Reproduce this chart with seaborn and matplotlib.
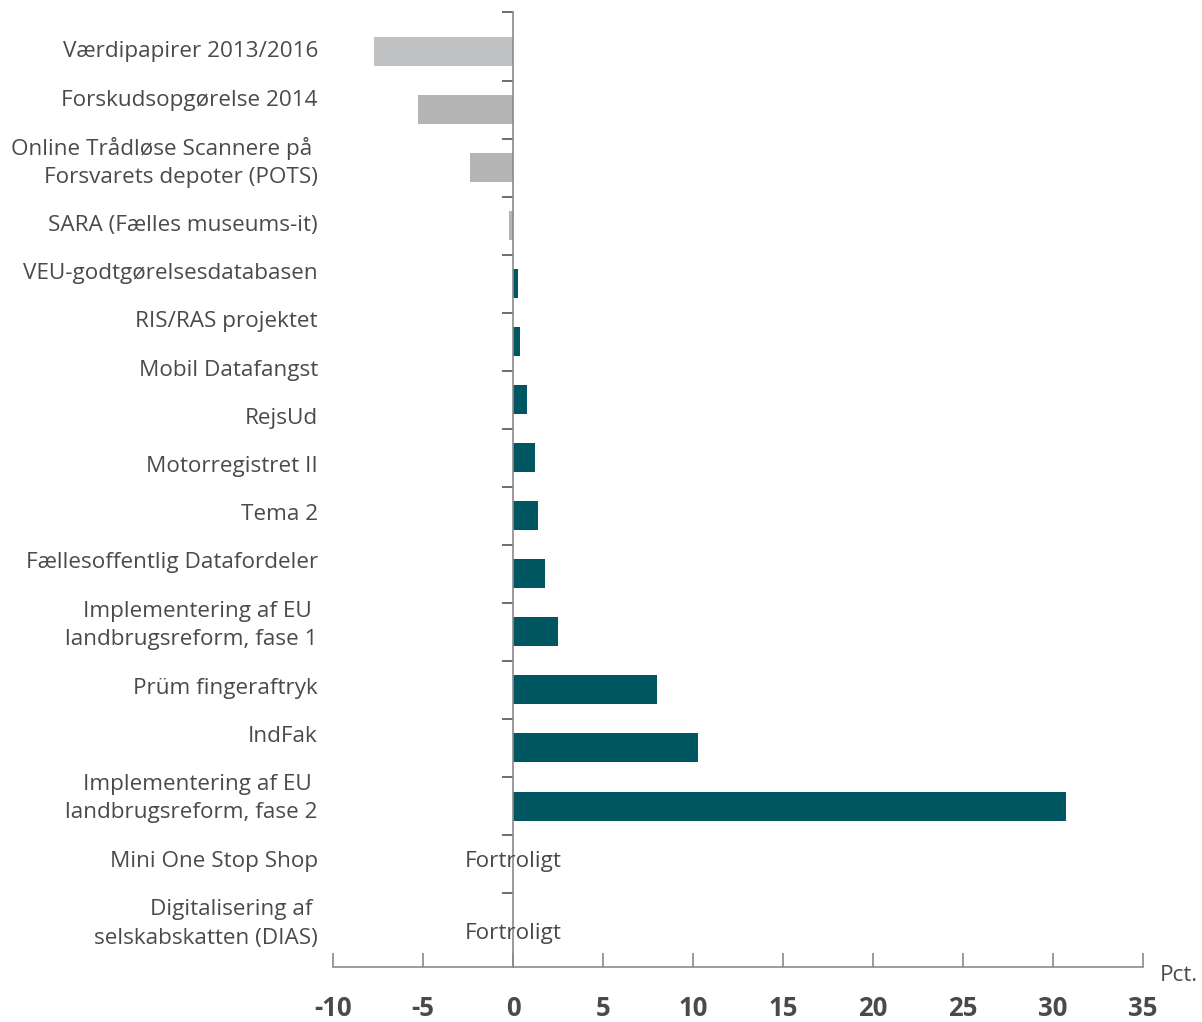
import numpy as np
import pandas as pd
import matplotlib
matplotlib.use("Agg")
import matplotlib.pyplot as plt
import matplotlib.transforms as mtransforms
import seaborn as sns

# ---------------- data ----------------
labels = [
    "Værdipapirer 2013/2016",
    "Forskudsopgørelse 2014",
    "Online Trådløse Scannere på \nForsvarets depoter (POTS)",
    "SARA (Fælles museums-it)",
    "VEU-godtgørelsesdatabasen",
    "RIS/RAS projektet",
    "Mobil Datafangst",
    "RejsUd",
    "Motorregistret II",
    "Tema 2",
    "Fællesoffentlig Datafordeler",
    "Implementering af EU \nlandbrugsreform, fase 1",
    "Prüm fingeraftryk",
    "IndFak",
    "Implementering af EU \nlandbrugsreform, fase 2",
    "Mini One Stop Shop",
    "Digitalisering af \nselskabskatten (DIAS)",
]
values = [-7.7, -5.3, -2.4, -0.25, 0.3, 0.4, np.nan, 0.8, 1.2, 1.4, 1.8, 2.5,
          8.0, 10.3, 30.7, np.nan, np.nan]
confidential = ["Mini One Stop Shop", "Digitalisering af \nselskabskatten (DIAS)"]
confidential_text = "Fortroligt"
x_ticks = [-10, -5, 0, 5, 10, 15, 20, 25, 30, 35]
unit_label = "Pct."

# ---------------- style ----------------
TEAL = "#005761"
GREY_LIGHT = "#c0c1c3"
GREY = "#b4b4b4"
TXT = "#4a4a4a"
AXC = "#8a8a8a"
FS = 16.2

sns.set_theme(style="white")
plt.rcParams["font.family"] = ["Open Sans", "DejaVu Sans"]

W, H = 1202, 1022
fig = plt.figure(figsize=(W / 100, H / 100), dpi=100)
ax_left, ax_right, ax_top, ax_bot = 333, 1143, 12, 967
ax = fig.add_axes([ax_left / W, 1 - ax_bot / H, (ax_right - ax_left) / W, (ax_bot - ax_top) / H])

df = pd.DataFrame({"category": labels, "value": values})
bars = df.dropna().reset_index(drop=True)
colors = {}
for i, r in bars.iterrows():
    if r["value"] < 0:
        colors[r["category"]] = GREY_LIGHT if i == 0 else GREY
    else:
        colors[r["category"]] = TEAL

sns.barplot(data=bars, x="value", y="category", hue="category", palette=colors,
            order=list(bars["category"]), legend=False, width=0.5, ax=ax,
            saturation=1, linewidth=0)

# slot geometry (pixels): bar slot i centred at 52 + 58*i
SLOT0, SLOT = 52.0, 58.0
def px2d(p):
    return (p - SLOT0) / SLOT

ax.set_xlim(x_ticks[0], x_ticks[-1])
ax.set_ylim(px2d(ax_bot), px2d(ax_top))

# spines
for s in ["top", "right"]:
    ax.spines[s].set_visible(False)
ax.spines["left"].set_position(("data", 0))
ax.spines["left"].set_color(AXC)
ax.spines["left"].set_linewidth(1.2)
ax.spines["bottom"].set_color(AXC)
ax.spines["bottom"].set_linewidth(1.2)

# y ticks: marks only
ax.set_yticks([])
ax.set_yticks([px2d(ax_top)] + [i + 0.5 for i in range(15)], minor=True)
ax.tick_params(axis="y", which="minor", direction="out", length=8, width=1.2,
               color="#555555", left=True)
ax.set_ylabel("")
ax.set_xlabel("")

# x ticks
ax.set_xticks(x_ticks)
ax.set_xticklabels([str(t) for t in x_ticks], fontweight="bold", fontsize=18.5, color=TXT)
ax.tick_params(axis="x", direction="in", length=10, width=1.2, color=AXC, pad=20, bottom=True)

# category labels (stacked text layout)
half = [24.1 if "\n" not in l else 38.5 for l in labels]
pos = [SLOT0]
for k in range(1, len(labels)):
    pos.append(pos[-1] + half[k - 1] + half[k])
trans = mtransforms.blended_transform_factory(ax.transAxes, ax.transData)
lab_x = (318 - ax_left) / (ax_right - ax_left)
for lab, p in zip(labels, pos):
    ax.text(lab_x, px2d(p), lab, transform=trans, ha="right", va="center",
            multialignment="right", fontsize=FS, color=TXT, linespacing=1.45)
    if lab in confidential:
        off = 9 if "\n" in lab else 0
        ax.text(0, px2d(p + off), confidential_text, ha="center", va="center",
                fontsize=FS, color=TXT)

fig.text(1160 / W, 1 - 975 / H, unit_label, ha="left", va="center", fontsize=FS, color=TXT)

fig.savefig("out.png", dpi=100)
